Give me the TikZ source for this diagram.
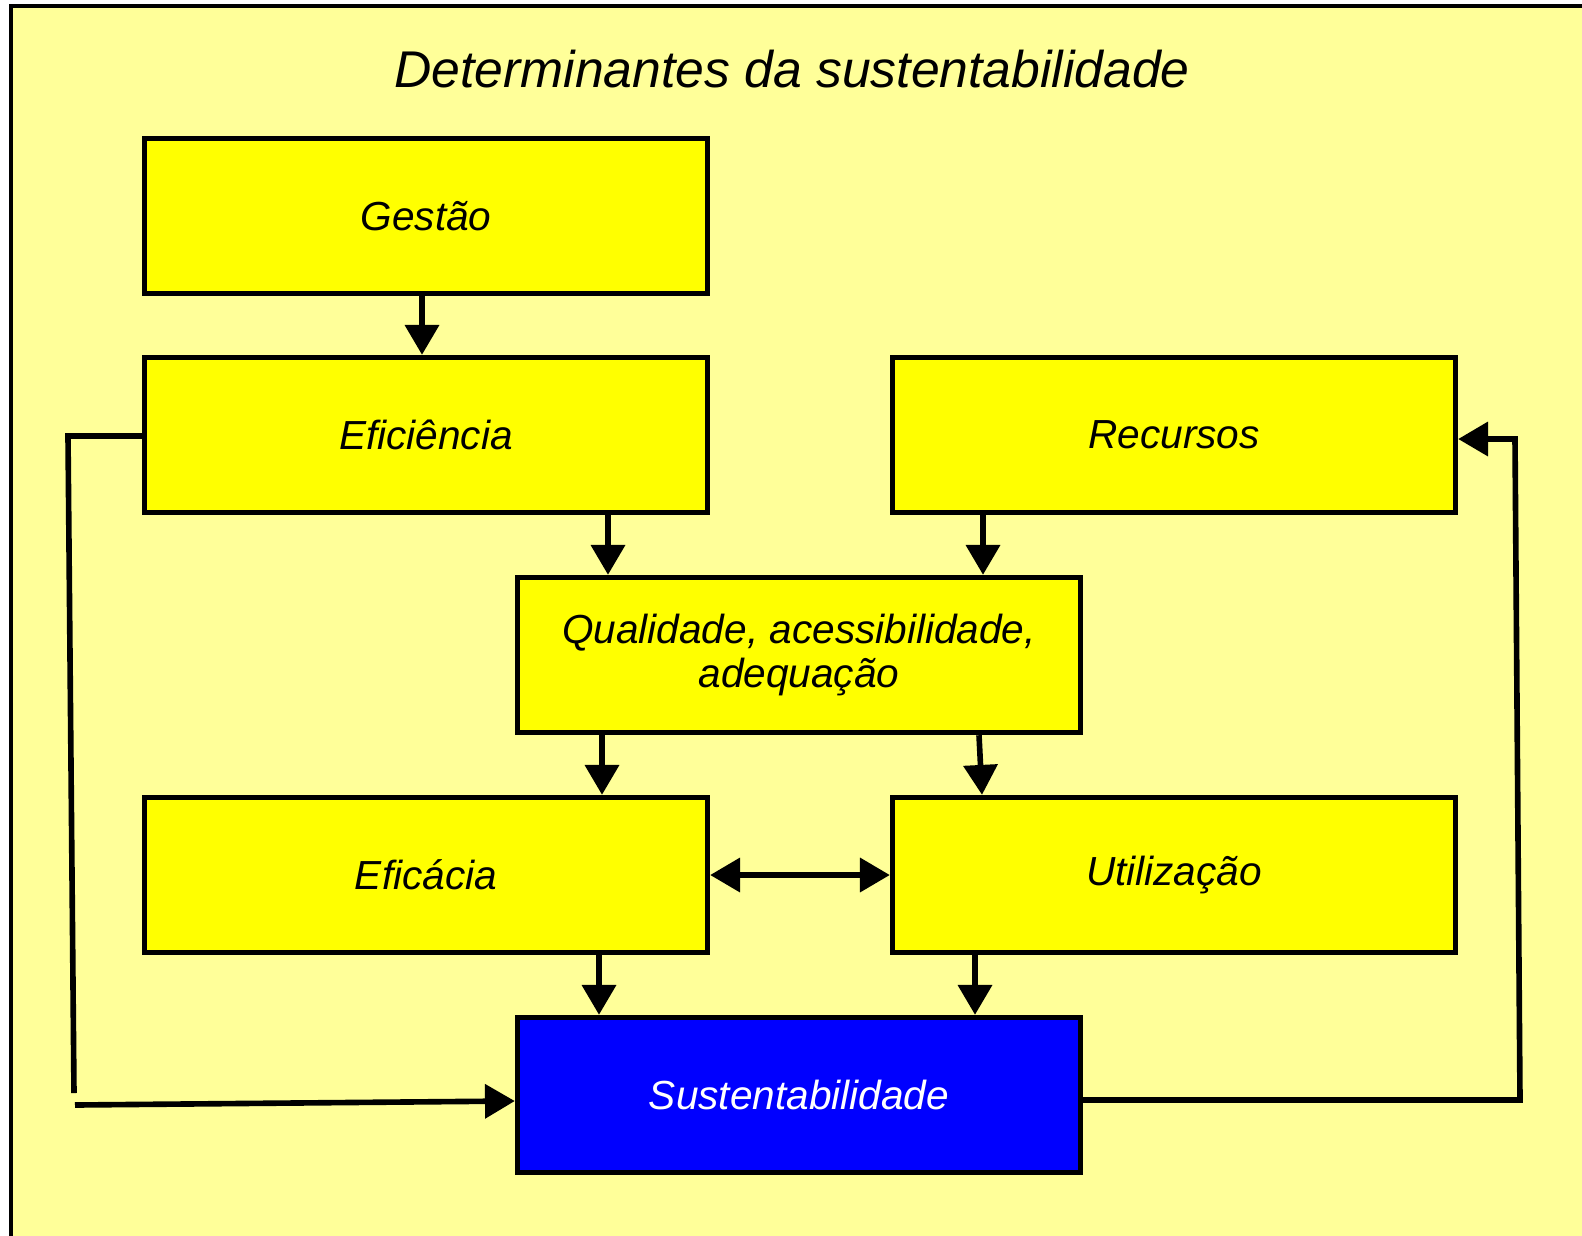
\documentclass[tikz,border=0pt]{standalone}
\usepackage{fontspec}
\setmainfont{Liberation Sans}
\usetikzlibrary{arrows.meta}
\definecolor{fundo}{HTML}{FFFF99}
\definecolor{caixa}{HTML}{FFFF00}
\definecolor{azul}{HTML}{0000FF}
\begin{document}
\begin{tikzpicture}[x=0.02cm,y=-0.02cm,
		bloco/.style={draw,line width=3.1pt,fill=caixa,minimum width=11.26cm,minimum height=3.1cm,inner sep=0pt,align=center,font=\fontsize{23.1}{25.3}\selectfont\itshape},
		linha/.style={line width=3.2pt},
		seta/.style={line width=3.2pt,-{Triangle[length=17pt,width=19pt]}},
		setadupla/.style={line width=3.2pt,{Triangle[length=17pt,width=19pt]}-{Triangle[length=17pt,width=19pt]}}]
			\useasboundingbox (0,0) rectangle (1582,1235);
			\clip (0,0) rectangle (1582,1235);
			\fill[fundo] (11,6) rectangle (1600,1250);
			\draw[line width=2.3pt] (11,6) rectangle (1600,1250);
			\node[font=\fontsize{29.4}{32}\selectfont\itshape] (titulo) at (792,69) {Determinantes da sustentabilidade};
			\node[bloco] (gestao) at (426,216) {Gestão};
			\node[bloco] (eficiencia) at (426,435) {Eficiência};
			\node[bloco] (recursos) at (1174,435) {Recursos};
			\node[bloco] (qualidade) at (799,655) {Qualidade, acessibilidade,\\adequação};
			\node[bloco] (eficacia) at (426,875) {Eficácia};
			\node[bloco] (utilizacao) at (1174,875) {Utilização};
			\node[bloco,fill=azul,text=white] (sustent) at (799,1095) {Sustentabilidade};
			\draw[seta] (gestao.south -| 422,0) -- (eficiencia.north -| 422,0);
			\draw[seta] (eficiencia.south -| 608,0) -- (qualidade.north -| 608,0);
			\draw[seta] (recursos.south -| 983,0) -- (qualidade.north -| 983,0);
			\draw[seta] (qualidade.south -| 602,0) -- (eficacia.north -| 602,0);
			\draw[seta] (qualidade.south -| 979,0) -- (utilizacao.north -| 982,0);
			\draw[seta] (eficacia.south -| 599,0) -- (sustent.north -| 599,0);
			\draw[seta] (utilizacao.south -| 975,0) -- (sustent.north -| 975,0);
			\draw[setadupla] (eficacia.east) -- (utilizacao.west);
			\coordinate (canto1) at (68,436);
			\coordinate (fim1) at (74,1093);
			\coordinate (inicio2) at (75,1105);
			\draw[linha] (eficiencia.west |- 0,436) -- (canto1) -- (fim1);
			\draw[seta] (inicio2) -- (sustent.west |- 0,1101);
			\coordinate (canto2) at (1520,1100);
			\coordinate (canto3) at (1515,439);
			\draw[seta] (sustent.east |- 0,1100) -- (canto2) -- (canto3) -- (recursos.east |- 0,439);
		\end{tikzpicture}
\end{document}
